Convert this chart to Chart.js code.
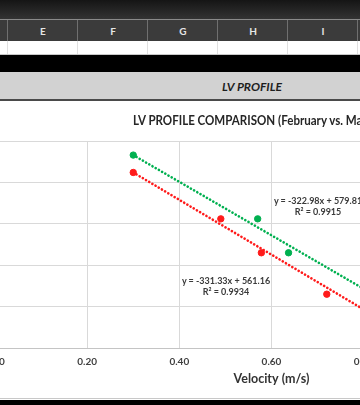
<!DOCTYPE html>
<html>
<head>
<meta charset="utf-8">
<script src="https://cdn.jsdelivr.net/npm/chart.js@4"></script>
<style>
  html, body { margin: 0; padding: 0; }
  body { width: 360px; height: 405px; overflow: hidden; position: relative; background: #fff; font-family: Lato, "Open Sans", sans-serif; }
  .abs { position: absolute; }
  .topbar { left: 0; top: 0; width: 360px; height: 19px; background: linear-gradient(#151515, #333); border-bottom: 1px solid #8a8a8a; }
  .colhead { left: 0; top: 20px; width: 360px; height: 21px; background: #3b3b3b; }
  .colhead div { position: absolute; top: 0; height: 21px; width: 70px; border-left: 1px solid #707070; color: #e6e6e6; font: bold 10px Lato, sans-serif; line-height: 22px; text-align: center; }
  .row { left: 0; top: 41px; width: 360px; height: 13px; background: #fff; border-bottom: 1px solid #c8c8c8; }
  .row div { position: absolute; top: 0; height: 13px; width: 70px; border-left: 1px solid #e0e0e0; }
  .black { left: 0; top: 55px; width: 360px; height: 17px; background: #000; }
  .band { left: 0; top: 72px; width: 360px; height: 27px; background: #d2d2d2; border-bottom: 2px solid #4a4a4a; }
  .band span { position: absolute; left: 0; width: 504px; text-align: center; top: 7px; font: italic bold 12px Lato, sans-serif; color: #1e1e1e; }
  .title { left: 133px; top: 112px; white-space: nowrap; font: bold 13.5px Lato, sans-serif; color: #262626; transform: scaleX(0.855); transform-origin: 0 0; }
  .eq { font: bold 9px Lato, sans-serif; color: #3a3a3a; text-align: center; white-space: nowrap; line-height: 11px; }
  #wrap { left: -60px; top: 103px; width: 640px; height: 293px; }
  .foot1 { left: 0; top: 398px; width: 360px; height: 1px; background: #c8c8c8; }
  .foot2 { left: 0; top: 400px; width: 360px; height: 5px; background: #000; }
</style>
</head>
<body>
<div class="abs topbar"></div>
<div class="abs colhead">
  <div style="left:-63px"></div>
  <div style="left:7px">E</div>
  <div style="left:77px">F</div>
  <div style="left:147px">G</div>
  <div style="left:217px">H</div>
  <div style="left:287px">I</div>
  <div style="left:357px"></div>
</div>
<div class="abs row">
  <div style="left:7px"></div><div style="left:77px"></div><div style="left:147px"></div>
  <div style="left:217px"></div><div style="left:287px"></div><div style="left:357px"></div>
</div>
<div class="abs black"></div>
<div class="abs band"><span>LV PROFILE</span></div>

<div class="abs" id="wrap"><canvas id="chart" width="640" height="293"></canvas></div>

<div class="abs title">LV PROFILE COMPARISON (February vs. March)</div>
<div class="abs eq" style="left:268px; top:195px; width:100px">y = -322.98x + 579.81<br>R² = 0.9915</div>
<div class="abs eq" style="left:176px; top:275px; width:100px">y = -331.33x + 561.16<br>R² = 0.9934</div>

<div class="abs foot1"></div>
<div class="abs foot2"></div>

<script>
// ── Data ────────────────────────────────────────────────────────────────────
const febVelocity   = [0.30, 0.49, 0.578, 0.72, 0.85];
const febLoad       = [462, 406, 365, 315, 284];
const marVelocity   = [0.30, 0.57, 0.637, 0.82];
const marLoad       = [483, 406, 365, 314];

// trendline ends (first / last velocity)
const febTrendVel   = [0.30, 0.85];
const febTrendLoad  = [462, 280];
const marTrendVel   = [0.30, 0.82];
const marTrendLoad  = [483, 315];

const xTicks = [0, 0.2, 0.4, 0.6, 0.8, 1.0, 1.2];

const RED   = '#ff1a1a';
const GREEN = '#00b050';

const pts = (xs, ys) => xs.map((x, i) => ({ x, y: ys[i] }));

const trendStyle = color => ({
  type: 'line',
  borderColor: color,
  borderWidth: 2.6,
  borderDash: [0.1, 3.6],
  borderCapStyle: 'round',
  pointRadius: 0,
  fill: false,
  tension: 0,
  order: 2
});

new Chart(document.getElementById('chart'), {
  type: 'scatter',
  data: {
    datasets: [
      { label: 'February', data: pts(febVelocity, febLoad), backgroundColor: RED, borderColor: RED, pointRadius: 3.2, order: 1 },
      { label: 'March', data: pts(marVelocity, marLoad), backgroundColor: GREEN, borderColor: GREEN, pointRadius: 3.2, order: 1 },
      { label: 'February trend', data: pts(febTrendVel, febTrendLoad), ...trendStyle(RED) },
      { label: 'March trend', data: pts(marTrendVel, marTrendLoad), ...trendStyle(GREEN) }
    ]
  },
  options: {
    animation: false,
    responsive: false,
    layout: { padding: { top: 38, right: 32, left: 0, bottom: 0 } },
    plugins: { legend: { display: false }, tooltip: { enabled: false } },
    scales: {
      x: {
        type: 'linear',
        min: 0,
        max: 1.2,
        afterBuildTicks: s => { s.ticks = xTicks.map(v => ({ value: v })); },
        afterFit: s => { s.height = 48; },
        grid: { color: '#d9d9d9', drawTicks: false },
        border: { color: '#c4c4c4' },
        ticks: {
          padding: 8,
          color: '#3f3f3f',
          font: { family: 'Lato', size: 10, weight: 'bold' },
          callback: v => Number(v).toFixed(2)
        },
        title: {
          display: true,
          text: 'Velocity (m/s)',
          color: '#333',
          padding: { top: 0, bottom: 10 },
          font: { family: 'Lato', size: 12.5, weight: 'bold' }
        }
      },
      y: {
        min: 250,
        max: 500,
        afterFit: s => { s.width = 55; },
        grid: { color: '#d9d9d9', drawTicks: false },
        border: { color: '#c4c4c4' },
        ticks: { stepSize: 50, padding: 8, color: '#3f3f3f', font: { family: 'Lato', size: 10, weight: 'bold' } }
      }
    }
  }
});
</script>
</body>
</html>
